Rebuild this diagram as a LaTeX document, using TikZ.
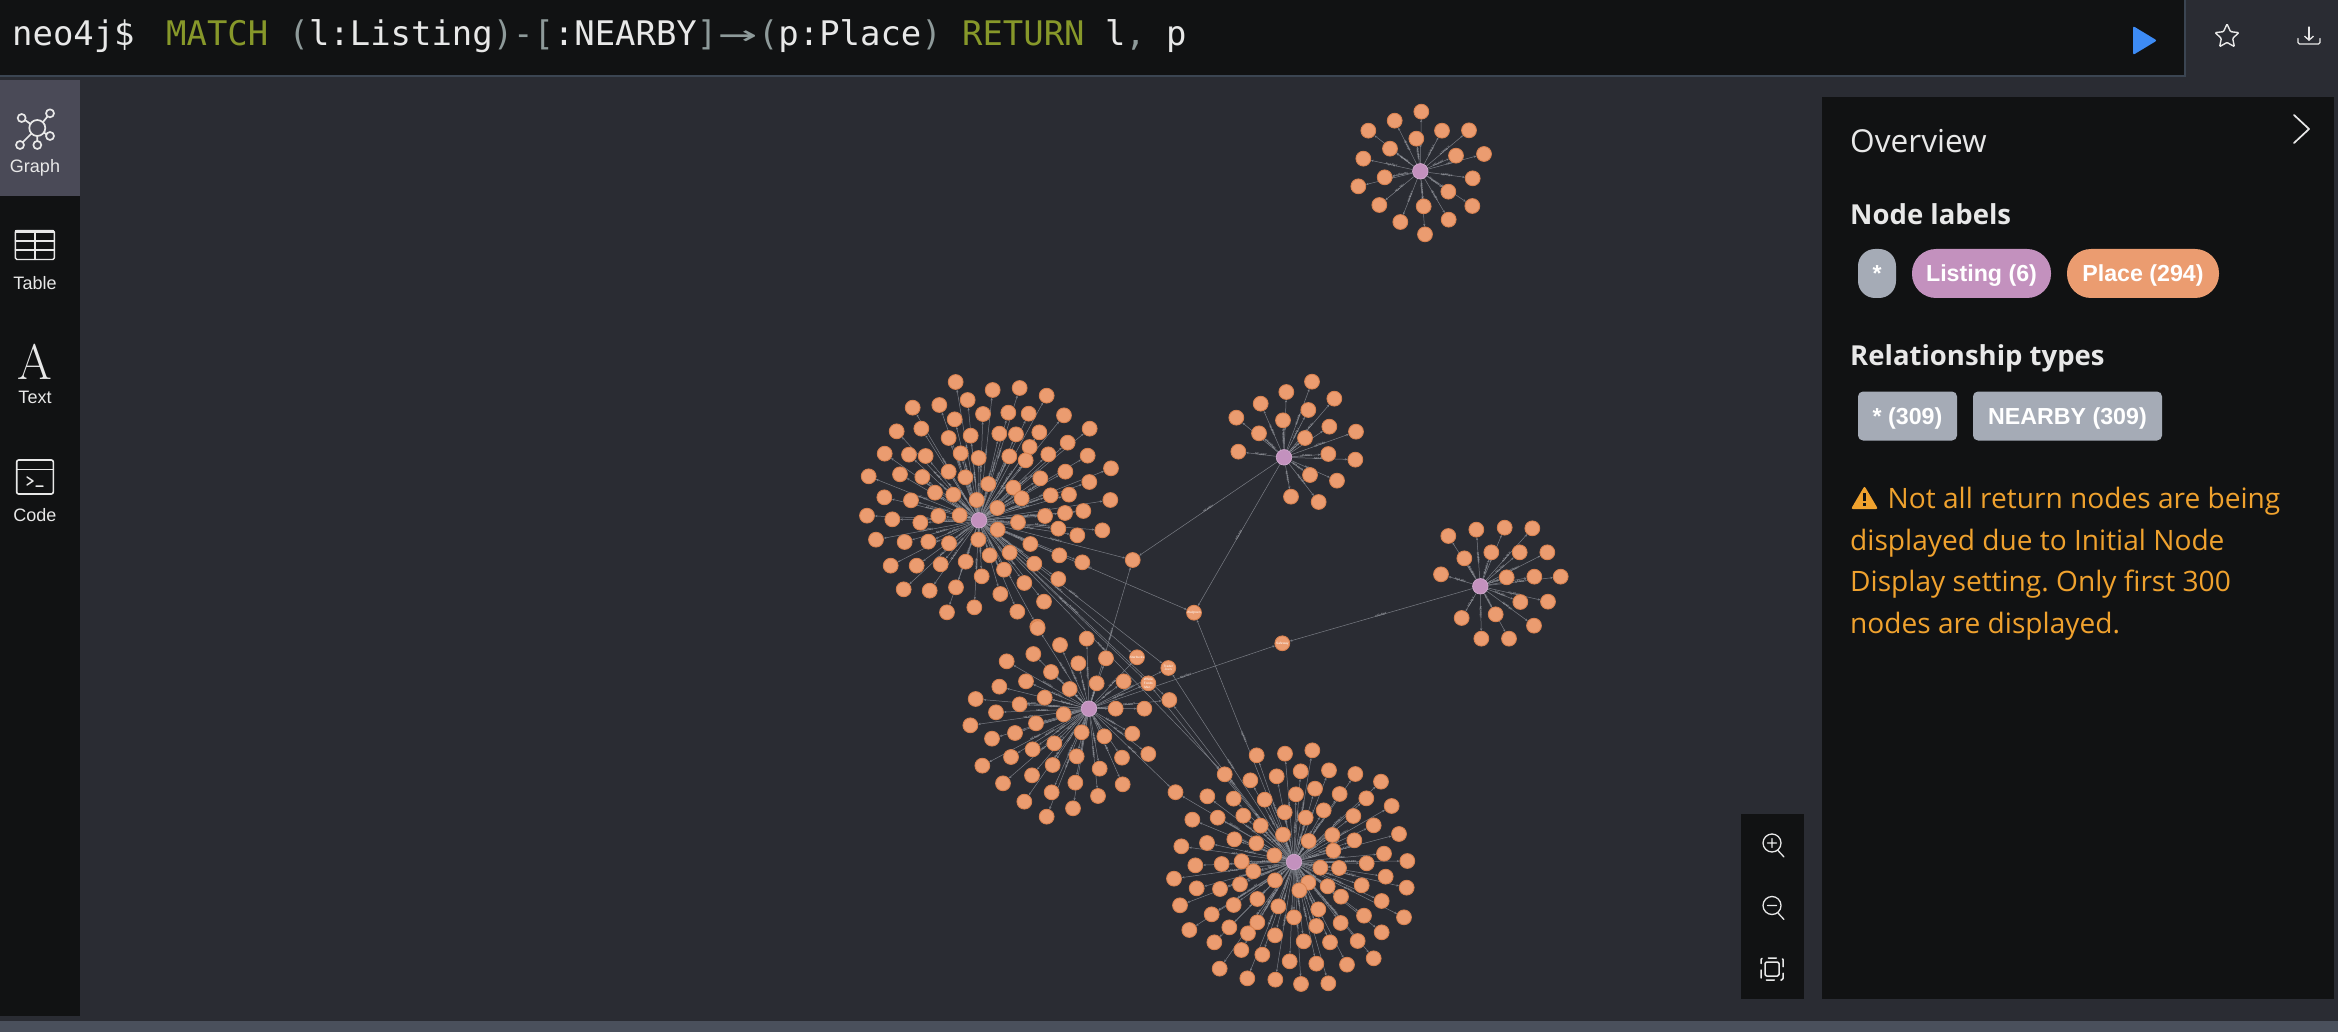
\documentclass[tikz,border=0pt]{standalone}
\usepackage{fontspec}
\setmainfont{Open Sans}
\setmonofont{DejaVu Sans Mono}
\newfontfamily\pillfont{Liberation Sans}
\newfontfamily\glyphfont{Latin Modern Roman}
\usetikzlibrary{arrows.meta,shapes.geometric}
\definecolor{canvasgray}{HTML}{2A2C33}
\definecolor{barblack}{HTML}{111213}
\definecolor{barline}{HTML}{3B4552}
\definecolor{tilegray}{HTML}{4A4A57}
\definecolor{stripgray}{HTML}{4A505C}
\definecolor{placeorange}{HTML}{EB9C70}
\definecolor{placeedge}{HTML}{D98250}
\definecolor{listingpurple}{HTML}{C391BE}
\definecolor{listingedge}{HTML}{D3ABD0}
\definecolor{edgegray}{HTML}{7A7D85}
\definecolor{capgray}{HTML}{B4B7BD}
\definecolor{pillgray}{HTML}{A5ABB6}
\definecolor{warnorange}{HTML}{F0A22E}
\definecolor{keyolive}{HTML}{87982A}
\definecolor{puncgray}{HTML}{8E9A9A}
\definecolor{playblue}{HTML}{3D8BF5}
\definecolor{iconwhite}{HTML}{E8E8E8}
\pgfdeclarelayer{bg}
\pgfdeclarelayer{edges}
\pgfsetlayers{bg,edges,main}
\frenchspacing
\tikzset{
    place/.style={circle,draw=placeedge,line width=0.9pt,fill=placeorange,minimum size=14.8pt,inner sep=0pt,text=white,align=center,font=\pillfont\fontsize{3.2}{3.6}\selectfont},
    listing/.style={circle,draw=listingedge,line width=0.7pt,fill=listingpurple,minimum size=15.5pt,inner sep=0pt},
    nearby/.style={draw=edgegray,line width=0.5pt,-{Stealth[length=2.6pt,width=2.2pt]}},
    relcap/.style={sloped,inner sep=0pt,text=capgray,font=\pillfont\fontsize{2.8}{3}\selectfont},
    sidelabel/.style={text=iconwhite,font=\pillfont\fontsize{18}{20}\selectfont},
    icon/.style={draw=iconwhite,line width=1.6pt,line cap=round,line join=round},
    pill/.style={rounded corners=#1,text=white,text height=16.5pt,text depth=0.5pt,font=\pillfont\bfseries\fontsize{23.2}{25}\selectfont,inner sep=0pt},
    heading/.style={anchor=base west,text=iconwhite,inner sep=0pt,font=\bfseries\fontsize{27.5}{30}\selectfont},
    warntext/.style={anchor=base west,text=warnorange,inner sep=0pt,font=\fontsize{28.1}{30}\selectfont},
    query/.style={anchor=base west,inner sep=0pt,font=\ttfamily\fontsize{33.9}{36}\selectfont}
}
\newcommand{\placecluster}[4]{
    \begin{scope}[shift={(#2,#3)},scale=1/3]
    \foreach \x/\y [count=\i] in {#4}{
        \node[place] (#1p\i) at (\x,\y) {};}
    \end{scope}
}
\begin{document}
\begin{tikzpicture}[x=1pt,y=-1pt]
    \useasboundingbox (0,0) rectangle (2338,1032);
    \begin{pgfonlayer}{bg}
    \fill[canvasgray] (0,0) rectangle (2338,1032);
    \fill[stripgray] (0,1021) rectangle (2338,1032);
    \fill[barline] (0,0) rectangle (2186,77);
    \fill[barblack] (0,0) rectangle (2184,75);
    \fill[barblack] (0,80) rectangle (80,1016);
    \fill[tilegray] (0,80) rectangle (80,196);
    \fill[barblack] (1822,97) rectangle (2334,999);
    \fill[barblack] (1741,814) rectangle (1804,999);
    \end{pgfonlayer}

    \node[query,text=iconwhite] (prompt) at (12,46) {neo4j\$};
    \node[query,text=iconwhite] (cypher) at (166,46) {\textcolor{keyolive}{MATCH} \textcolor{puncgray}{(}l:Listing\textcolor{puncgray}{)-[}:NEARBY\textcolor{puncgray}{]}\makebox[40.8pt][c]{\textcolor{puncgray}{\scalebox{1.9}[1]{→}}}\textcolor{puncgray}{(}p:Place\textcolor{puncgray}{)} \textcolor{keyolive}{RETURN} l\textcolor{puncgray}{,} p};
    \fill[playblue,rounded corners=2pt] (2133,26) -- (2157,40.5) -- (2133,55) -- cycle;
    \node[star,star points=5,star point ratio=2.1,draw=iconwhite,line width=1.4pt,minimum size=25pt,inner sep=0pt,rounded corners=1pt] (starbtn) at (2227,36.5) {};
    \draw[icon,line width=1.3pt,-{Straight Barb[length=4pt,width=9pt]}] (2309,27) -- (2309,41);
    \draw[icon,line width=1.3pt,rounded corners=1.5pt] (2298,38.5) -- (2298,44) -- (2320,44) -- (2320,38.5);

    \draw[icon,line width=1.7pt] (37.3,128) circle (8);
    \foreach \x/\y in {21.7/118,50/113.3,50/136,37.3/145,20/145}{
        \draw[icon,line width=1.7pt] (\x,\y) circle (4);}
    \draw[icon,line width=1.7pt] (25,120) -- (30.5,124) (47.5,116.5) -- (43,122) (46.5,134.5) -- (44,132.5) (37.3,141) -- (37.3,136) (22.8,142.2) -- (31.5,133.5);
    \node[sidelabel] (graphlabel) at (35,167.5) {Graph};
    \draw[icon,line width=1.4pt,rounded corners=1.5pt] (15.3,230.5) rectangle (54.3,259.5);
    \fill[iconwhite] (15.3,230.5) rectangle (54.3,233);
    \draw[icon,line width=1.2pt] (15.3,241) -- (54.3,241) (15.3,250) -- (54.3,250) (35,232) -- (35,259.5);
    \node[sidelabel] (tablelabel) at (35,282.7) {Table};
    \node[text=iconwhite,inner sep=0pt,font=\glyphfont\fontsize{50}{52}\selectfont] (textglyph) at (35,362) {A};
    \node[sidelabel] (textlabel) at (35,397.5) {Text};
    \draw[icon,rounded corners=2pt] (16.7,460) rectangle (53.3,494);
    \draw[icon] (16.7,469.5) -- (53.3,469.5);
    \draw[icon,line width=1.5pt] (27,477) -- (33,481) -- (27,485) (36,486) -- (43,486);
    \node[sidelabel] (codelabel) at (35,515) {Code};

    \node[anchor=base west,text=iconwhite,inner sep=0pt,font=\fontsize{31.6}{33}\selectfont] (overview) at (1850,152.5) {Overview};
    \draw[icon,line width=1.7pt] (2294,115) -- (2309,129) -- (2294,143);
    \node[heading] (nodelabels) at (1850,224.5) {Node labels};
    \node[pill=17pt,fill=pillgray,minimum width=38pt,minimum height=49pt] (pillany) at (1877,273.5) {*};
    \node[pill=24pt,fill=listingpurple,minimum width=139pt,minimum height=49pt] (pilllisting) at (1981.5,273.5) {Listing (6)};
    \node[pill=24pt,fill=placeorange,minimum width=152pt,minimum height=49pt] (pillplace) at (2143,273.5) {Place (294)};
    \node[heading] (reltypes) at (1850,366) {Relationship types};
    \node[pill=5pt,fill=pillgray,minimum width=99pt,minimum height=49pt] (pillrel) at (1907.5,416) {* (309)};
    \node[pill=5pt,fill=pillgray,minimum width=189pt,minimum height=49pt] (pillnearby) at (2067.5,416) {NEARBY (309)};

    \fill[warnorange,rounded corners=2pt] (1851,509) -- (1864.5,486) -- (1878,509) -- cycle;
    \draw[barblack,line width=2.2pt] (1864.5,493) -- (1864.5,501) (1864.5,503) -- (1864.5,505.5);
    \node[warntext] (warn1) at (1887.5,508) {Not all return nodes are being};
    \node[warntext] (warn2) at (1850,550) {displayed due to Initial Node};
    \node[warntext] (warn3) at (1850,591.7) {Display setting. Only first 300};
    \node[warntext] (warn4) at (1850,633.4) {nodes are displayed.};

    \draw[icon,line width=1.3pt] (1772,843) circle (9) (1777.5,850) -- (1784,857) (1772,838.5) -- (1772,847.5) (1767.5,843) -- (1776.5,843);
    \draw[icon,line width=1.3pt] (1772,905.5) circle (9) (1777.5,912.5) -- (1784,919.5) (1767.5,905.5) -- (1776.5,905.5);
    \draw[icon,line width=1.5pt,rounded corners=1.5pt] (1765,962) rectangle (1779,976);
    \draw[icon,line width=1.5pt,rounded corners=1.5pt,dash pattern=on 8pt off 6.5pt,dash phase=4pt] (1761,958) rectangle (1783,980);

    \node[listing] (h1) at (979,520.3) {};
    \node[listing] (h2) at (1420.3,171.3) {};
    \node[listing] (h3) at (1284,457.3) {};
    \node[listing] (h4) at (1480.3,586.3) {};
    \node[listing] (h5) at (1089,708.7) {};
    \node[listing] (h6) at (1294,862) {};

    \node[place] (s1) at (1168.3,668) {Trader\\Joe's};
    \node[place] (s2) at (1169.3,700) {};
    \node[place] (s3) at (1194,612.7) {Walgreen};
    \node[place] (s4) at (1132.7,560) {};
    \node[place] (s5) at (1282.3,643.3) {Safeway};
    \node[place] (s6) at (1148.3,683.3) {Whole\\Foods\\Mar...};
    \node[place] (s7) at (1137,657.3) {Starbucks};
    \node[place] (s8) at (1224.7,774.3) {};
    \node[place] (s9) at (1175.5,792.2) {};

    \placecluster{h1}{840}{360}{347/66,458/90,539/84,620/107,218/143,298/135,383/120,429/162,505/158,566/161,672/166,749/206,170/214,244/206,344/178,326/234,392/227,478/221,528/223,598/217,683/248,134/281,207/284,257/288,362/280,416/294,508/289,569/261,557/301,625/283,743/287,813/325,180/343,247/351,326/335,376/352,445/372,520/383,601/355,676/335,748/366,86/349,285/398,340/404,410/420,472/444,545/415,632/406,687/404,811/420,133/412,213/421,295/468,359/466,241/488,157/478,81/467,615/468,675/459,730/453,534/487,473/509,655/506,712/526,787/511,108/539,194/546,265/545,327/550,415/539,571/552,509/578,449/586,658/586,727/607,152/617,230/617,302/613,377/605,583/611,425/649,492/629,553/669,655/657,191/688,269/692,348/682,481/702,612/725,321/757,403/742,532/755,592/800}
    \placecluster{h2}{1340}{90}{244/65,164/92,85/122,306/122,387/121,229/146,150/176,348/197,432/192,70/206,134/262,398/265,55/289,325/305,397/348,118/345,251/349,181/396,326/389,255/433}
    \placecluster{h3}{1215}{360}{291/65,214/96,358/116,137/131,280/150,64/173,204/181,343/200,423/215,132/220,270/234,70/275,340/282,421/299,285/345,366/362,228/410,311/426}
    \placecluster{h4}{1420}{505}{254/68,337/70,169/74,85/93,214/142,299/142,382/142,133/160,63/208,260/217,343/215,422/215,301/291,384/290,227/328,125/339,342/362,184/401,267/401}
    \placecluster{h5}{950}{610}{410/86,330/105,263/54,250/132,170/154,468/145,385/160,303/186,228/214,148/230,359/237,440/220,521/214,284/263,77/267,209/283,138/307,341/313,497/296,583/296,258/340,61/346,195/369,395/367,463/379,547/371,126/386,313/400,248/418,183/441,380/439,516/443,595/432,308/465,97/467,449/476,246/496,159/520,376/518,518/523,305/547,444/558,223/575,369/595,290/620}
    \placecluster{h6}{1150}{730}{487/61,405/71,320/76,452/124,537/121,616/132,693/155,380/139,301/151,495/176,569/192,438/193,172/199,251/206,344/209,649/205,725/228,404/247,521/241,610/258,280/257,203/263,467/263,127/269,671/286,332/287,747/312,547/315,399/314,613/331,253/328,476/333,171/339,319/340,94/349,550/362,373/376,702/371,275/394,650/400,772/393,215/402,136/406,511/413,567/414,310/424,707/440,72/446,375/451,770/473,270/463,475/458,635/466,140/475,533/469,210/477,448/481,573/500,322/507,251/525,90/526,695/513,505/538,385/529,185/553,642/557,432/562,762/562,322/577,572/579,499/588,238/592,118/600,294/610,375/616,695/607,193/637,461/634,540/637,623/633,274/660,337/674,671/685,419/694,499/701,591/704,209/716,292/745,376/749,453/762,535/760}

    \begin{pgfonlayer}{edges}
    \foreach \a/\b in {h1/s1,h5/s1,h6/s1,h1/s2,h5/s2,h6/s2,h1/s3,h3/s3,h6/s3,h1/s4,h3/s4,h5/s4,h4/s5,h5/s5,h1/s6,h5/s6,h6/s6,h1/s7,h5/s7,h1/s8,h6/s8,h5/s9,h6/s9}{
        \draw[nearby] (\a) -- node[relcap] {NEARBY} (\b);}
    \foreach \a/\n in {h1/93,h2/20,h3/18,h4/19,h5/45,h6/91}{
        \foreach \i in {1,...,\n}{
            \draw[nearby] (\a) -- node[relcap] {NEARBY} (\a p\i);}}
    \end{pgfonlayer}
\end{tikzpicture}
\end{document}
